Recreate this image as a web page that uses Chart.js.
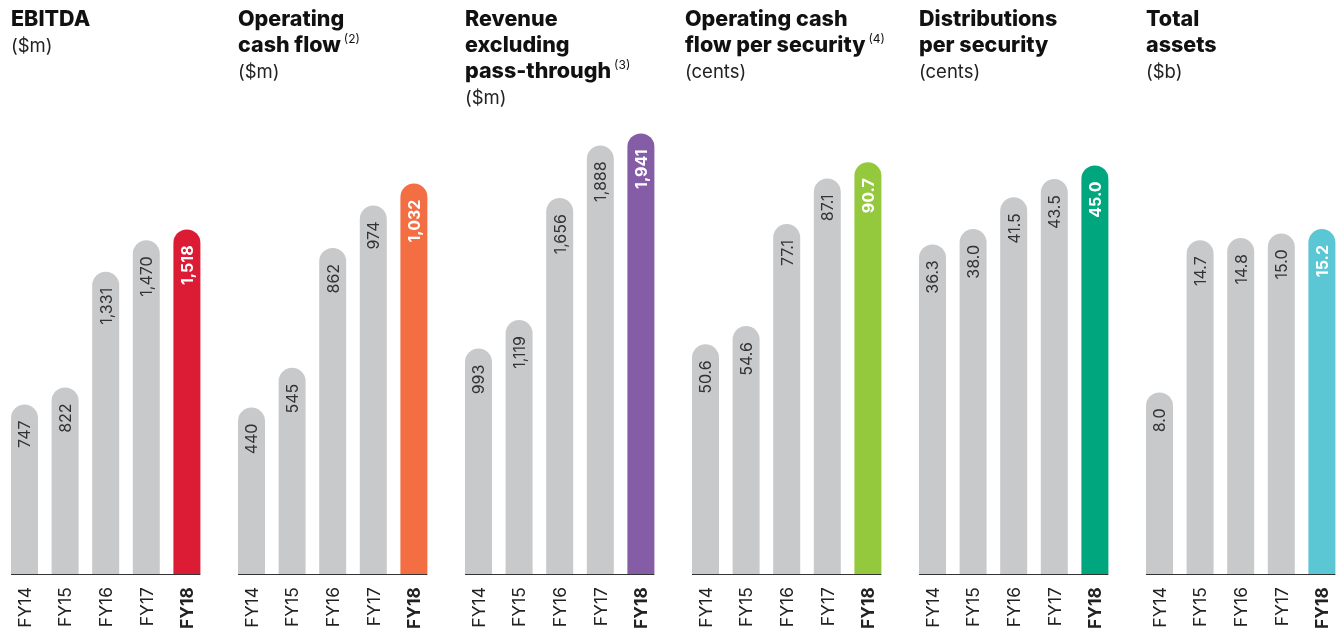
<!DOCTYPE html>
<html>
<head>
<meta charset="utf-8">
<script src="https://cdn.jsdelivr.net/npm/chart.js@4"></script>
<style>
  body { margin: 0; background: #fff; width: 1339px; height: 634px; overflow: hidden; position: relative; font-family: Inter, "Open Sans", sans-serif; }
  .panel { position: absolute; top: 0; width: 227px; height: 634px; }
  .panel canvas { position: absolute; left: 0; top: 0; }
  .title { position: absolute; top: 5px; color: #111; font-size: 21.5px; line-height: 26px; white-space: nowrap; z-index: 2; }
  .title b { font-weight: 800; }
  .title sup { font-size: 12px; font-weight: 400; vertical-align: 9px; line-height: 0; margin-left: 3px; }
  .title .unit { font-size: 18.5px; font-weight: 400; color: #222; }
</style>
</head>
<body>
<script>
// data
const categories = ['FY14', 'FY15', 'FY16', 'FY17', 'FY18'];
const ebitda = [747, 822, 1331, 1470, 1518];
const opCashFlow = [440, 545, 862, 974, 1032];
const revenueExPassThrough = [993, 1119, 1656, 1888, 1941];
const ocfPerSecurity = [50.6, 54.6, 77.1, 87.1, 90.7];
const distPerSecurity = [36.3, 38.0, 41.5, 43.5, 45.0];
const totalAssets = [8.0, 14.7, 14.8, 15.0, 15.2];

const panels = [
  { title: '<b>EBITDA</b><br><span class="unit">($m)</span>', data: ebitda, max: 2000, color: '#dc1c35', dec: 0, tx: 11 },
  { title: '<b>Operating</b><br><b>cash flow</b><sup>(2)</sup><br><span class="unit">($m)</span>', data: opCashFlow, max: 1200, color: '#f36e43', dec: 0, tx: 11 },
  { title: '<b>Revenue</b><br><b>excluding</b><br><b>pass-through</b><sup>(3)</sup><br><span class="unit">($m)</span>', data: revenueExPassThrough, max: 2000, color: '#855ca6', dec: 0, tx: 11 },
  { title: '<b>Operating cash</b><br><b>flow per security</b><sup>(4)</sup><br><span class="unit">(cents)</span>', data: ocfPerSecurity, max: 100, color: '#94c83d', dec: 1, tx: 4 },
  { title: '<b>Distributions</b><br><b>per security</b><br><span class="unit">(cents)</span>', data: distPerSecurity, max: 50, color: '#00a77e', dec: 1, tx: 11 },
  { title: '<b>Total</b><br><b>assets</b><br><span class="unit">($b)</span>', data: totalAssets, max: 20, color: '#5bc6d4', dec: 1, tx: 11 }
];

const GREY = '#c8c9cb';
const FONT = 'Inter, "Open Sans", sans-serif';

function fmt(v, dec) {
  return dec ? v.toFixed(dec) : v.toLocaleString('en-US');
}

// labels drawn through the scales
const labelPlugin = {
  id: 'labels',
  afterDatasetsDraw(chart) {
    const ctx = chart.ctx;
    const meta = chart.getDatasetMeta(0);
    const xs = chart.scales.x;
    const ys = chart.scales.y;
    const dec = chart.options.plugins.labels.dec;
    const last = categories.length - 1;
    const bars = meta.data;

    // axis line
    const left = bars[0].x - bars[0].width / 2;
    const right = bars[last].x + bars[last].width / 2;
    const base = ys.getPixelForValue(0);
    ctx.save();
    ctx.strokeStyle = '#333';
    ctx.lineWidth = 1.2;
    ctx.beginPath();
    ctx.moveTo(left, base + 0.5);
    ctx.lineTo(right, base + 0.5);
    ctx.stroke();

    chart.data.datasets[0].data.forEach((v, i) => {
      const bar = bars[i];
      const hi = i === last;
      // value label inside bar
      ctx.save();
      ctx.translate(bar.x + 1, bar.y + 16);
      ctx.rotate(-Math.PI / 2);
      ctx.textAlign = 'right';
      ctx.textBaseline = 'middle';
      ctx.fillStyle = hi ? '#fff' : '#333';
      ctx.font = (hi ? 'bold ' : '') + '16px ' + FONT;
      ctx.fillText(fmt(v, dec), 0, 0);
      ctx.restore();

      // category label below axis
      ctx.save();
      ctx.translate(xs.getPixelForValue(i) + 1, base + 13);
      ctx.rotate(-Math.PI / 2);
      ctx.textAlign = 'right';
      ctx.textBaseline = 'middle';
      ctx.fillStyle = '#222';
      ctx.font = (hi ? 'bold ' : '') + '17.5px ' + FONT;
      ctx.fillText(categories[i], 0, 0);
      ctx.restore();
    });
    ctx.restore();
  }
};

panels.forEach((p, idx) => {
  const div = document.createElement('div');
  div.className = 'panel';
  div.style.left = (227 * idx) + 'px';
  const t = document.createElement('div');
  t.className = 'title';
  t.style.left = p.tx + 'px';
  t.innerHTML = p.title;
  div.appendChild(t);
  const cv = document.createElement('canvas');
  cv.width = 227;
  cv.height = 634;
  cv.style.width = '227px';
  cv.style.height = '634px';
  div.appendChild(cv);
  document.body.appendChild(div);

  new Chart(cv.getContext('2d'), {
    type: 'bar',
    data: {
      labels: categories,
      datasets: [{
        data: p.data,
        backgroundColor: p.data.map((v, i) => i === categories.length - 1 ? p.color : GREY),
        borderRadius: 14,
        borderSkipped: 'bottom',
        barPercentage: 1,
        categoryPercentage: 0.665
      }]
    },
    options: {
      responsive: false,
      animation: false,
      layout: { padding: { left: 4.2, right: 19.8, top: 120, bottom: 60 } },
      scales: {
        x: { display: false, offset: true },
        y: { display: false, min: 0, max: p.max }
      },
      plugins: {
        legend: { display: false },
        tooltip: { enabled: false },
        labels: { dec: p.dec }
      }
    },
    plugins: [labelPlugin]
  });
});
</script>
</body>
</html>
